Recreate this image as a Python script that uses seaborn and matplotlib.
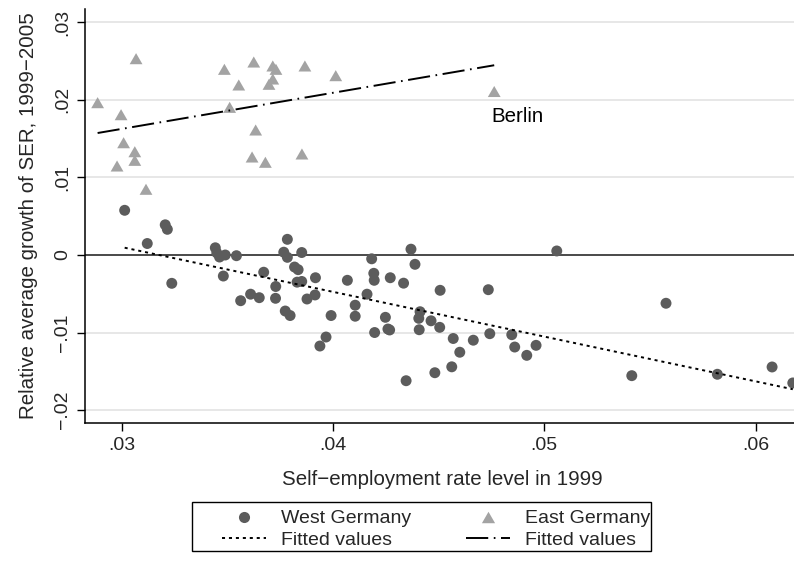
import numpy as np
import pandas as pd
import matplotlib
matplotlib.use("Agg")
import matplotlib.pyplot as plt
from matplotlib.lines import Line2D
from matplotlib.patches import Rectangle
import seaborn as sns

# ---------------- data ----------------
west_x = [0.03014, 0.03121, 0.03206, 0.03216, 0.03237, 0.03443, 0.03450, 0.03463,
          0.03490, 0.03481, 0.03543, 0.03563, 0.03610, 0.03651, 0.03672, 0.03729,
          0.03728, 0.03774, 0.03797, 0.03784, 0.03767, 0.03784, 0.03818, 0.03835,
          0.03852, 0.03830, 0.03852, 0.03877, 0.03917, 0.03915, 0.03967, 0.03938,
          0.03991, 0.04068, 0.04105, 0.04105, 0.04161, 0.04183, 0.04193, 0.04195,
          0.04197, 0.04248, 0.04260, 0.04268, 0.04271, 0.04334, 0.04346, 0.04369,
          0.04388, 0.04412, 0.04406, 0.04408, 0.04464, 0.04482, 0.04505, 0.04507,
          0.04562, 0.04569, 0.04600, 0.04664, 0.04735, 0.04742, 0.04846, 0.04860,
          0.04917, 0.04961, 0.05059, 0.05414, 0.05576, 0.05819, 0.06078, 0.06176]
west_y = [0.00576, 0.00148, 0.00389, 0.00331, -0.00365, 0.00093, 0.00028, -0.00026,
          0.00000, -0.00271, -0.00009, -0.00589, -0.00505, -0.00550, -0.00222, -0.00406,
          -0.00558, -0.00722, -0.00780, 0.00202, 0.00036, -0.00030, -0.00155, -0.00189,
          0.00032, -0.00350, -0.00341, -0.00567, -0.00293, -0.00515, -0.01057, -0.01173,
          -0.00780, -0.00326, -0.00647, -0.00789, -0.00505, -0.00049, -0.00236, -0.00326,
          -0.00999, -0.00803, -0.00954, -0.00966, -0.00293, -0.00363, -0.01620, 0.00075,
          -0.00120, -0.00731, -0.00816, -0.00963, -0.00848, -0.01517, -0.00932, -0.00455,
          -0.01441, -0.01076, -0.01253, -0.01098, -0.00447, -0.01014, -0.01027, -0.01186,
          -0.01293, -0.01164, 0.00052, -0.01555, -0.00622, -0.01537, -0.01443, -0.01649]

east_x = [0.02886, 0.03068, 0.02997, 0.03009, 0.03062, 0.03062, 0.02978, 0.03115,
          0.03486, 0.03625, 0.03554, 0.03511, 0.03715, 0.03730, 0.03715, 0.03697,
          0.03634, 0.03617, 0.03680, 0.03867, 0.03853, 0.04013, 0.04763]
east_y = [0.01963, 0.02530, 0.01808, 0.01447, 0.01331, 0.01220, 0.01147, 0.00847,
          0.02393, 0.02487, 0.02191, 0.01903, 0.02436, 0.02393, 0.02268, 0.02200,
          0.01611, 0.01263, 0.01195, 0.02436, 0.01302, 0.02311, 0.02107]
east_names = [""] * 22 + ["Berlin"]

x_ticks = [0.03, 0.04, 0.05, 0.06]
x_tick_labels = [".03", ".04", ".05", ".06"]
y_ticks = [-0.02, -0.01, 0.0, 0.01, 0.02, 0.03]
y_tick_labels = ["\u2212.02", "\u2212.01", "0", ".01", ".02", ".03"]

x_label = "Self\u2212employment rate level in 1999"
y_label = "Relative average growth of SER, 1999\u22122005"
legend_labels = ["West Germany", "East Germany", "Fitted values", "Fitted values"]

# ---------------- style ----------------
sns.set_style("white")
plt.rcParams['font.family'] = ['Liberation Sans', 'DejaVu Sans']
plt.rcParams['lines.scale_dashes'] = False

WEST_C = "#5c5c5c"
EAST_C = "#a3a3a3"
TRI = [(0, 0.5), (-0.577, -0.5), (0.577, -0.5), (0, 0.5)]
DOT_LS = (0, (2.2, 2.8))
DASHDOT_LS = (0, (16, 4, 1.2, 4))

fig = plt.figure(figsize=(7.94, 5.73), dpi=100)
W, H = 794, 573
left_px, right_px, top_px, bot_px = 85, 800, 9, 422.7
ax = fig.add_axes([left_px / W, 1 - bot_px / H, (right_px - left_px) / W, (bot_px - top_px) / H])

xpx_per = 21130.0
ypx_per = 7760.0
ax.set_xlim(0.03 - (121.7 - left_px) / xpx_per, 0.03 + (right_px - 121.7) / xpx_per)
ax.set_ylim(-(bot_px - 255) / ypx_per, (255 - top_px) / ypx_per)

for yt in y_ticks:
    if yt != 0:
        ax.axhline(yt, color="#e5e5e5", lw=1.3, zorder=0)
ax.axhline(0, color="#3c3c3c", lw=1.3, zorder=1)

df_w = pd.DataFrame({"x": west_x, "y": west_y})
df_e = pd.DataFrame({"x": east_x, "y": east_y})

sns.scatterplot(data=df_w, x="x", y="y", color=WEST_C, marker="o", s=62,
                edgecolor="none", linewidth=0, ax=ax, zorder=3, legend=False)
sns.scatterplot(data=df_e, x="x", y="y", color=EAST_C, marker=TRI, s=85,
                edgecolor="none", linewidth=0, ax=ax, zorder=3, legend=False)

sns.regplot(data=df_w, x="x", y="y", scatter=False, ci=None, truncate=True, ax=ax,
            line_kws=dict(color="black", lw=1.4, linestyle=DOT_LS, zorder=4))
sns.regplot(data=df_e, x="x", y="y", scatter=False, ci=None, truncate=True, ax=ax,
            line_kws=dict(color="black", lw=1.4, linestyle=DASHDOT_LS, zorder=4))

for xv, yv, nm in zip(east_x, east_y, east_names):
    if nm:
        ax.annotate(nm, xy=(xv, yv), xytext=(-2, -18.2), textcoords="offset points",
                    ha="left", va="center", fontsize=14.8, color="black")

ax.set_xticks(x_ticks)
ax.set_xticklabels(x_tick_labels, fontsize=14)
ax.set_yticks(y_ticks)
ax.set_yticklabels(y_tick_labels, fontsize=14, rotation=90, va="center")
ax.tick_params(axis="both", direction="out", length=6, width=1.0, color="black",
               pad=4, bottom=True, left=True)

ax.set_xlabel(x_label, fontsize=14.8, labelpad=11.5)
ax.set_ylabel(y_label, fontsize=14.8, labelpad=11.5)

for s in ["top", "right"]:
    ax.spines[s].set_visible(False)
for s in ["left", "bottom"]:
    ax.spines[s].set_color("black")
    ax.spines[s].set_linewidth(1.1)

handles = [
    Line2D([], [], ls="none", marker="o", color=WEST_C, markersize=8, markeredgewidth=0),
    Line2D([], [], color="black", lw=1.4, ls=DOT_LS),
    Line2D([], [], ls="none", marker=TRI, color=EAST_C, markersize=9.5, markeredgewidth=0),
    Line2D([], [], color="black", lw=1.4, ls=DASHDOT_LS),
]
labels = [legend_labels[0], legend_labels[2], legend_labels[1], legend_labels[3]]
leg = fig.legend(handles, labels, ncol=2, loc="upper left",
                 bbox_to_anchor=(222 / W, 1 - 509.8 / H),
                 fontsize=14, frameon=False,
                 handlelength=2.26, handletextpad=0.76,
                 columnspacing=2.86, labelspacing=0.19, borderpad=0.0,
                 borderaxespad=0)
fig.add_artist(Rectangle((192 / W, 1 - 551 / H), (651 - 192) / W, (551 - 502) / H,
                         transform=fig.transFigure, fill=False, ec="black", lw=1.0))

fig.savefig("out.png", dpi=100, facecolor="white")
